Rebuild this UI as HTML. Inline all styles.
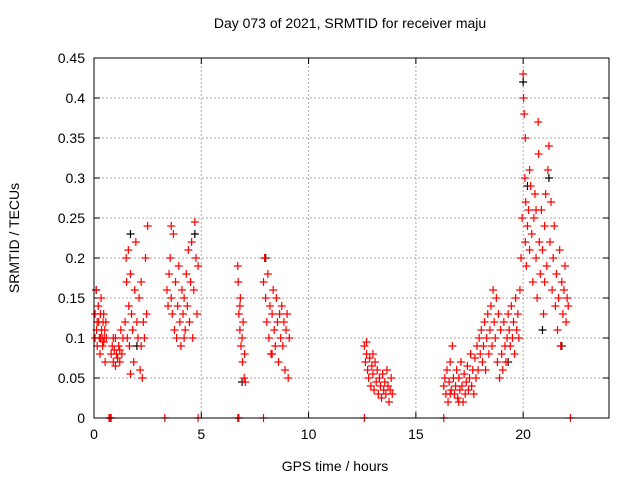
<!DOCTYPE html>
<html><head><meta charset="utf-8"><style>
body{margin:0;background:#fff;}
svg{display:block;font-family:"Liberation Sans",sans-serif;}
</style></head><body>
<svg id="chart" width="640" height="480">
<rect x="0" y="0" width="640" height="480" fill="#fff"/>
<text x="350" y="28" text-anchor="middle" font-size="14">Day 073 of 2021, SRMTID for receiver maju</text>
<text x="335" y="471" text-anchor="middle" font-size="14">GPS time / hours</text>
<text transform="translate(19,238) rotate(-90)" text-anchor="middle" font-size="14">SRMTID / TECUs</text>
<g id="grid"></g><g id="ticks"></g><g id="marks"></g>
<rect x="94" y="58" width="515" height="360" fill="none" stroke="#000" stroke-width="1"/>
</svg>
<script>
const xTicks=[0,5,10,15,20];
const yTicks=[0,0.05,0.1,0.15,0.2,0.25,0.3,0.35,0.4,0.45];
const yTickLabels=["0","0.05","0.1","0.15","0.2","0.25","0.3","0.35","0.4","0.45"];
const redX=[0.05,0.1,0.12,0.15,0.2,0.22,0.25,0.28,0.3,0.33,0.35,0.38,0.4,0.42,0.45,0.48,0.5,0.52,0.55,0.58,0.05,0.15,0.3,0.45,
0.8,0.85,0.9,0.95,1.0,1.05,1.1,1.15,1.2,1.25,1.3,1.35,0.9,1.0,1.2,
1.45,1.5,1.52,1.55,1.6,1.62,1.65,1.7,1.75,1.8,1.85,1.9,1.95,2.0,2.05,2.1,2.15,2.2,2.25,2.3,2.35,2.4,2.45,2.5,1.7,2.2,
3.4,3.45,3.5,3.55,3.6,3.65,3.7,3.75,3.8,3.85,3.9,3.95,4.0,4.05,4.1,4.15,4.2,4.25,4.3,4.35,4.4,4.45,4.5,4.55,4.6,4.65,4.7,4.75,4.8,4.85,3.6,4.2,
6.7,6.72,6.75,6.8,6.82,6.85,6.9,6.92,6.95,7.0,7.02,7.05,6.8,
7.9,7.95,8.0,8.05,8.1,8.15,8.2,8.25,8.3,8.35,8.4,8.45,8.5,8.55,8.6,8.65,8.7,8.75,8.8,8.85,8.9,8.95,9.0,9.05,9.1,8.3,
12.6,12.65,12.7,12.75,12.8,12.85,12.9,12.95,13.0,13.05,13.1,13.15,13.2,13.25,13.3,13.35,13.4,13.45,13.5,13.55,13.6,13.65,13.7,13.75,13.8,13.85,13.9,12.7,13.0,
16.3,16.35,16.4,16.45,16.5,16.55,16.6,16.65,16.7,16.75,16.8,16.85,16.9,16.95,17.0,17.05,17.1,17.15,17.2,17.25,17.3,17.35,17.4,17.45,17.5,17.55,17.6,17.65,17.7,17.75,17.8,17.85,17.9,17.95,16.6,17.0,
18.0,18.05,18.1,18.15,18.2,18.25,18.3,18.35,18.4,18.45,18.5,18.55,18.6,18.65,18.7,18.75,18.8,18.85,18.9,18.95,19.0,19.05,19.1,19.15,19.2,19.25,19.3,19.35,19.4,19.45,19.5,19.55,19.6,19.65,19.7,19.75,19.8,
19.85,19.9,19.95,20.0,20.02,20.05,20.08,20.1,20.12,20.15,20.2,20.25,20.3,20.35,20.4,20.45,20.5,20.55,20.6,20.65,20.7,20.72,20.75,20.8,20.85,20.9,20.95,21.0,21.05,21.1,21.15,21.2,21.25,21.3,21.35,21.4,21.45,21.5,21.55,21.6,21.65,21.7,21.75,21.8,21.85,21.9,21.95,22.0,22.05,22.1,20.3,20.6,21.0,20.1,
0.7,0.75,0.8,3.3,4.85,6.7,6.75,7.9,12.6,16.3,22.2];
const redY=[0.13,0.16,0.11,0.09,0.14,0.12,0.1,0.08,0.13,0.15,0.11,0.1,0.09,0.12,0.13,0.1,0.11,0.07,0.12,0.1,0.1,0.12,0.1,0.095,
0.08,0.09,0.07,0.085,0.1,0.08,0.075,0.09,0.085,0.11,0.08,0.1,0.1,0.065,0.07,
0.12,0.2,0.17,0.1,0.21,0.14,0.09,0.18,0.13,0.11,0.07,0.16,0.22,0.12,0.1,0.15,0.06,0.09,0.05,0.12,0.1,0.2,0.13,0.24,0.055,0.17,
0.16,0.14,0.18,0.2,0.15,0.13,0.23,0.11,0.17,0.1,0.14,0.19,0.12,0.09,0.16,0.13,0.15,0.11,0.18,0.14,0.21,0.12,0.17,0.22,0.1,0.16,0.245,0.2,0.13,0.19,0.24,0.1,
0.19,0.17,0.13,0.11,0.15,0.09,0.1,0.07,0.12,0.05,0.08,0.045,0.14,
0.17,0.2,0.15,0.12,0.18,0.1,0.14,0.08,0.13,0.16,0.11,0.09,0.15,0.12,0.07,0.13,0.1,0.14,0.09,0.12,0.06,0.11,0.13,0.05,0.1,0.08,
0.09,0.07,0.08,0.06,0.05,0.075,0.04,0.065,0.055,0.035,0.07,0.045,0.06,0.03,0.05,0.04,0.025,0.055,0.035,0.045,0.03,0.06,0.04,0.02,0.035,0.05,0.03,0.095,0.08,
0.04,0.05,0.03,0.06,0.02,0.045,0.07,0.035,0.09,0.05,0.03,0.04,0.06,0.025,0.05,0.035,0.07,0.04,0.02,0.055,0.03,0.045,0.065,0.035,0.05,0.08,0.04,0.06,0.03,0.075,0.05,0.09,0.06,0.1,0.03,0.02,
0.08,0.11,0.07,0.09,0.12,0.06,0.1,0.13,0.08,0.11,0.14,0.09,0.16,0.12,0.1,0.15,0.07,0.13,0.05,0.11,0.08,0.06,0.12,0.09,0.07,0.1,0.13,0.11,0.09,0.14,0.1,0.12,0.08,0.15,0.11,0.13,0.1,
0.16,0.2,0.25,0.43,0.4,0.38,0.3,0.22,0.27,0.19,0.24,0.26,0.21,0.29,0.23,0.17,0.25,0.28,0.2,0.15,0.37,0.33,0.22,0.18,0.26,0.21,0.13,0.24,0.28,0.19,0.31,0.34,0.22,0.27,0.16,0.2,0.24,0.14,0.18,0.11,0.15,0.21,0.09,0.17,0.13,0.16,0.19,0.12,0.15,0.14,0.31,0.26,0.17,0.35,
0,0,0,0,0,0,0,0,0,0,0];
const blackX=[0.1,1.7,4.7,6.9,8.0,20.0,20.2,21.2,21.8,20.9,2.0,19.3];
const blackY=[0.16,0.23,0.23,0.045,0.2,0.42,0.29,0.3,0.09,0.11,0.09,0.07];
const NS="http://www.w3.org/2000/svg";
const X0=94,X1=609,Y0=418,Y1=58;
function sx(v){return X0+v/24*(X1-X0);}
function sy(v){return Y0-v/0.45*(Y0-Y1);}
const grid=document.getElementById('grid'),ticks=document.getElementById('ticks'),marks=document.getElementById('marks');
function mk(tag,attrs,parent){const e=document.createElementNS(NS,tag);for(const k in attrs)e.setAttribute(k,attrs[k]);parent.appendChild(e);return e;}
xTicks.forEach(v=>{const x=sx(v);
 if(v>0){const g=mk('line',{x1:x,x2:x,y1:Y1,y2:Y0,stroke:'#aaa','stroke-dasharray':'2,2'},grid);
 
 }
 mk('line',{x1:x,x2:x,y1:Y0,y2:Y0-6,stroke:'#000'},ticks);mk('line',{x1:x,x2:x,y1:Y1,y2:Y1+6,stroke:'#000'},ticks);
 const t=mk('text',{x:x,y:Y0+21,'text-anchor':'middle','font-size':'14'},ticks);t.textContent=String(v);
 
 });
yTicks.forEach((v,i)=>{const y=sy(v);
 if(v>0&&v<0.45){const g=mk('line',{x1:X0,x2:X1,y1:y,y2:y,stroke:'#aaa','stroke-dasharray':'2,2'},grid);
 
 }
 mk('line',{x1:X0,x2:X0+6,y1:y,y2:y,stroke:'#000'},ticks);mk('line',{x1:X1,x2:X1-6,y1:y,y2:y,stroke:'#000'},ticks);
 const t=mk('text',{x:X0-9,y:y+5,'text-anchor':'end','font-size':'14'},ticks);t.textContent=yTickLabels[i];
 
 });
function plus(x,y,c,name){const p=mk('path',{d:`M${x-4},${y}h8M${x},${y-4}v8`,stroke:c,'stroke-width':'1.2',fill:'none'},marks);
 
 }
blackX.forEach((v,i)=>plus(sx(v),sy(blackY[i]),'#000','black-point'));
redX.forEach((v,i)=>plus(sx(v),sy(redY[i]),'#f00','red-point'));
</script>
</body></html>
